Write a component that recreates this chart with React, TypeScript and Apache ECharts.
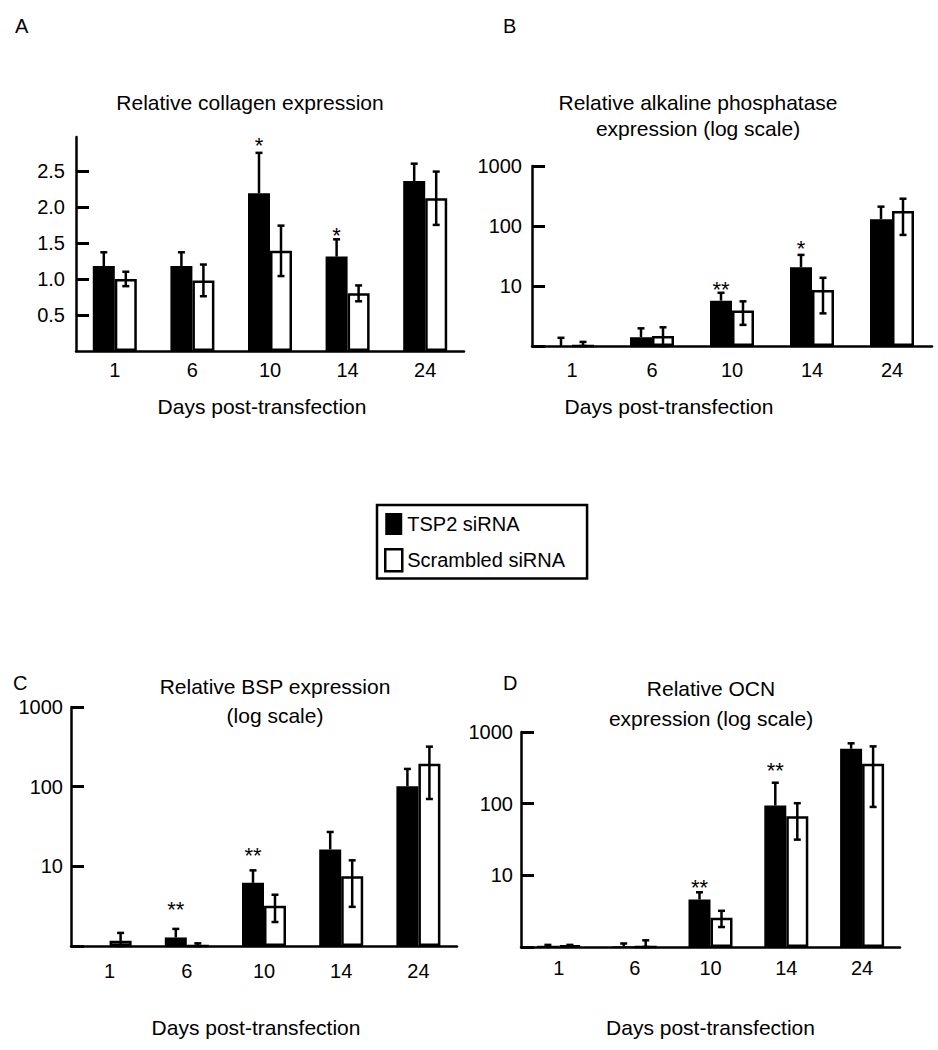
import React, { useEffect, useRef } from 'react';
import * as echarts from 'echarts';

// ---------- data ----------
const days = ['1', '6', '10', '14', '24'];
const seriesNames = ['TSP2 siRNA', 'Scrambled siRNA'];

// A: relative collagen expression (linear)
const collagenTSP2 = [1.18, 1.18, 2.19, 1.31, 2.36];
const collagenTSP2Err = [0.19, 0.19, 0.56, 0.24, 0.24];
const collagenScr = [1.0, 0.98, 1.39, 0.8, 2.12];
const collagenScrErr = [0.1, 0.22, 0.35, 0.11, 0.37];
const collagenSig = ['', '', '*', '*', ''];
const collagenSigAt = [null, null, 2.89, 1.64, null];
const collagenTicks = [0.5, 1.0, 1.5, 2.0, 2.5];

// B: relative alkaline phosphatase expression (log)
const alpTSP2 = [1.0, 1.4, 5.7, 20.5, 130];
const alpTSP2Err = [0.37, 0.57, 2.0, 12.5, 80];
const alpScr = [1.0, 1.47, 3.9, 8.6, 178];
const alpScrErr = [0.17, 0.58, 1.65, 5.1, 107];
const alpSig = ['', '', '**', '*', ''];
const alpSigAt = [null, null, 9.7, 46, null];

// C: relative BSP expression (log)
const bspTSP2 = [1.0, 1.28, 6.2, 16.3, 101];
const bspTSP2Err = [0, 0.36, 2.7, 10.7, 66];
const bspScr = [1.16, 1.0, 3.2, 7.5, 194];
const bspScrErr = [0.3, 0.08, 1.2, 4.4, 124];
const bspSig = ['', '**', '**', '', ''];
const bspSigAt = [null, 3.1, 14.5, null, null];

// D: relative OCN expression (log)
const ocnTSP2 = [1.04, 1.02, 4.6, 94, 585];
const ocnTSP2Err = [0.03, 0.1, 1.2, 102, 110];
const ocnScr = [1.05, 1.0, 2.55, 66.5, 360];
const ocnScrErr = [0.02, 0.24, 0.65, 35, 270];
const ocnSig = ['', '', '**', '**', ''];
const ocnSigAt = [null, null, 7.3, 311, null];

const logMin = 1;
const logMax = 1000;

// ---------- styling ----------
const FONT = '"Liberation Sans", Arial, Helvetica, sans-serif';
const BW = 22;
const AXIS_W = 2.5;
const TITLE_FS = 21;

type Panel = {
  letter: string;
  letterPos: [number, number];
  title: string;
  titleX: number;
  titleTop: number;
  titleLH: number;
  grid: { left: number; top: number; width: number; height: number };
  log: boolean;
  tsp: number[];
  tspErr: number[];
  scr: number[];
  scrErr: number[];
  sig: string[];
  sigAt: (number | null)[];
  xLabelMargin: number;
  yLabelMargin: number;
  yLabelPad: number[];
  nameGap: number;
  namePad: number[];
};

const panels: Panel[] = [
  {
    letter: 'A', letterPos: [15, 26],
    title: 'Relative collagen expression', titleX: 250, titleTop: 90, titleLH: 24,
    grid: { left: 76, top: 137, width: 388, height: 214 },
    log: false,
    tsp: collagenTSP2, tspErr: collagenTSP2Err, scr: collagenScr, scrErr: collagenScrErr,
    sig: collagenSig, sigAt: collagenSigAt,
    xLabelMargin: 9, yLabelMargin: 11, yLabelPad: [2, 0, 0, 0], nameGap: 45, namePad: [0, 16, 0, 0],
  },
  {
    letter: 'B', letterPos: [503, 26],
    title: 'Relative alkaline phosphatase\nexpression (log scale)', titleX: 698, titleTop: 89, titleLH: 26,
    grid: { left: 532, top: 166, width: 400, height: 180 },
    log: true,
    tsp: alpTSP2, tspErr: alpTSP2Err, scr: alpScr, scrErr: alpScrErr,
    sig: alpSig, sigAt: alpSigAt,
    xLabelMargin: 14, yLabelMargin: 10, yLabelPad: [14, 0, 0, 0], nameGap: 50, namePad: [0, 126, 0, 0],
  },
  {
    letter: 'C', letterPos: [13, 683],
    title: 'Relative BSP expression\n(log scale)', titleX: 275, titleTop: 672, titleLH: 29,
    grid: { left: 71, top: 707, width: 386, height: 239 },
    log: true,
    tsp: bspTSP2, tspErr: bspTSP2Err, scr: bspScr, scrErr: bspScrErr,
    sig: bspSig, sigAt: bspSigAt,
    xLabelMargin: 15, yLabelMargin: 8, yLabelPad: [12, 0, 0, 0], nameGap: 71, namePad: [0, 16, 0, 0],
  },
  {
    letter: 'D', letterPos: [503, 683],
    title: 'Relative OCN\nexpression (log scale)', titleX: 711, titleTop: 673, titleLH: 30,
    grid: { left: 521, top: 732, width: 379, height: 215 },
    log: true,
    tsp: ocnTSP2, tspErr: ocnTSP2Err, scr: ocnScr, scrErr: ocnScrErr,
    sig: ocnSig, sigAt: ocnSigAt,
    xLabelMargin: 11, yLabelMargin: 8, yLabelPad: [12, 0, 0, 0], nameGap: 70, namePad: [0, 0, 0, 0],
  },
];

function errSeries(gi: number, values: number[], errs: number[], side: number, full: boolean, log: boolean, name: string) {
  const data = values.map((v, i) => {
    let lo = full ? v - errs[i] : v;
    if (log && lo < logMin) lo = logMin;
    return [i, lo, v + errs[i]];
  });
  return {
    type: 'custom',
    name,
    xAxisIndex: gi,
    yAxisIndex: gi,
    clip: false,
    silent: true,
    z: 5,
    data,
    renderItem: (params: any, api: any) => {
      const i = api.value(0);
      const lo = api.coord([i, api.value(1)]);
      const hi = api.coord([i, api.value(2)]);
      if (Math.abs(hi[1] - lo[1]) < 0.5) return null;
      const x = lo[0] + (side * BW) / 2;
      const cap = 3.5;
      const style = { stroke: '#000', lineWidth: 2.5 };
      const children: any[] = [
        { type: 'line', shape: { x1: x, y1: lo[1], x2: x, y2: hi[1] }, style },
        { type: 'line', shape: { x1: x - cap, y1: hi[1], x2: x + cap, y2: hi[1] }, style },
      ];
      if (full) children.push({ type: 'line', shape: { x1: x - cap, y1: lo[1], x2: x + cap, y2: lo[1] }, style });
      return { type: 'group', children };
    },
  };
}

function sigSeries(gi: number, sig: string[], at: (number | null)[]) {
  const items = sig.map((s, i) => ({ s, i, v: at[i] })).filter((d) => d.s && d.v != null);
  return {
    type: 'custom',
    xAxisIndex: gi,
    yAxisIndex: gi,
    clip: false,
    silent: true,
    z: 6,
    data: items.map((d) => [d.i, d.v as number]),
    renderItem: (params: any, api: any) => {
      const p = api.coord([api.value(0), api.value(1)]);
      return {
        type: 'text',
        x: p[0] - BW / 2,
        y: p[1] + 2.5,
        style: {
          text: items[params.dataIndex].s,
          fontSize: 22,
          fontFamily: FONT,
          fill: '#000',
          align: 'center',
          verticalAlign: 'middle',
        },
      };
    },
  };
}

function buildOption() {
  const grids: any[] = [];
  const xAxes: any[] = [];
  const yAxes: any[] = [];
  const series: any[] = [];
  const titles: any[] = [];
  const graphics: any[] = [];

  panels.forEach((p, gi) => {
    grids.push({ ...p.grid, containLabel: false });
    titles.push({
      text: p.title,
      left: p.titleX,
      top: p.titleTop,
      textAlign: 'center',
      padding: 0,
      textStyle: { fontFamily: FONT, fontSize: TITLE_FS, fontWeight: 'normal', color: '#000', lineHeight: p.titleLH },
    });
    graphics.push({
      type: 'text',
      x: p.letterPos[0],
      y: p.letterPos[1],
      style: { text: p.letter, fontFamily: FONT, fontSize: 20, fill: '#000', verticalAlign: 'middle', align: 'left' },
    });
    xAxes.push({
      type: 'category',
      gridIndex: gi,
      data: days,
      boundaryGap: true,
      axisLine: { show: true, onZero: false, lineStyle: { color: '#000', width: AXIS_W } },
      axisTick: { show: false },
      axisLabel: { fontFamily: FONT, fontSize: 20, color: '#000', margin: p.xLabelMargin },
      splitLine: { show: false },
      name: 'Days post-transfection',
      nameLocation: 'middle',
      nameGap: p.nameGap,
      nameTextStyle: { fontFamily: FONT, fontSize: TITLE_FS, color: '#000', padding: p.namePad },
    });
    if (p.log) {
      yAxes.push({
        type: 'log',
        logBase: 10,
        gridIndex: gi,
        min: logMin,
        max: logMax,
        axisLine: { show: true, lineStyle: { color: '#000', width: AXIS_W } },
        axisTick: { show: true, inside: true, length: 13, lineStyle: { color: '#000', width: 3 } },
        axisLabel: {
          fontFamily: FONT,
          fontSize: 20,
          color: '#000',
          margin: p.yLabelMargin,
          padding: p.yLabelPad,
          formatter: (v: number) => {
            const r = Math.round(v);
            return r <= 1 ? '' : String(r);
          },
        },
        splitLine: { show: false },
        minorTick: { show: false },
      });
    } else {
      yAxes.push({
        type: 'value',
        gridIndex: gi,
        min: 0,
        max: 2.97,
        interval: 0.5,
        axisLine: { show: true, lineStyle: { color: '#000', width: AXIS_W } },
        axisTick: { show: true, inside: true, length: 13, lineStyle: { color: '#000', width: 3 }, customValues: collagenTicks },
        axisLabel: {
          fontFamily: FONT,
          fontSize: 20,
          color: '#000',
          margin: p.yLabelMargin,
          padding: p.yLabelPad,
          customValues: collagenTicks,
          formatter: (v: number) => (v > 0.01 && v < 2.9 ? v.toFixed(1) : ''),
        },
        splitLine: { show: false },
      });
    }
    series.push({
      type: 'bar',
      name: seriesNames[0],
      xAxisIndex: gi,
      yAxisIndex: gi,
      data: p.tsp,
      barWidth: BW,
      barGap: '0%',
      itemStyle: { color: '#000' },
      silent: true,
    });
    series.push({
      type: 'bar',
      name: seriesNames[1],
      xAxisIndex: gi,
      yAxisIndex: gi,
      data: p.scr,
      barWidth: BW,
      barGap: '0%',
      itemStyle: { color: '#fff', borderColor: '#000', borderWidth: 2.5 },
      silent: true,
    });
    series.push(errSeries(gi, p.tsp, p.tspErr, -1, false, p.log, seriesNames[0]));
    series.push(errSeries(gi, p.scr, p.scrErr, 1, true, p.log, seriesNames[1]));
    series.push(sigSeries(gi, p.sig, p.sigAt));
  });

  return {
    animation: false,
    backgroundColor: '#fff',
    textStyle: { fontFamily: FONT },
    title: titles,
    grid: grids,
    xAxis: xAxes,
    yAxis: yAxes,
    series,
    graphic: graphics,
    legend: {
      left: 377,
      top: 505,
      orient: 'vertical',
      borderColor: '#000',
      borderWidth: 2.5,
      padding: [8, 22, 6, 7],
      itemGap: 13,
      itemWidth: 17,
      itemHeight: 22,
      selectedMode: false,
      textStyle: { fontFamily: FONT, fontSize: 20, color: '#000' },
      data: [
        { name: seriesNames[0], icon: 'rect', itemStyle: { color: '#000', borderWidth: 0 } },
        { name: seriesNames[1], icon: 'rect', itemStyle: { color: '#fff', borderColor: '#000', borderWidth: 2.5 } },
      ],
    },
  };
}

export default function App() {
  const ref = useRef<HTMLDivElement>(null);
  useEffect(() => {
    if (!ref.current) return;
    const chart = echarts.init(ref.current, undefined, { renderer: 'svg' });
    chart.setOption(buildOption() as any);
    return () => chart.dispose();
  }, []);
  return (
    <div
      ref={ref}
      style={{ position: 'absolute', left: 0, top: 0, width: 938, height: 1050, background: '#fff' }}
    />
  );
}
